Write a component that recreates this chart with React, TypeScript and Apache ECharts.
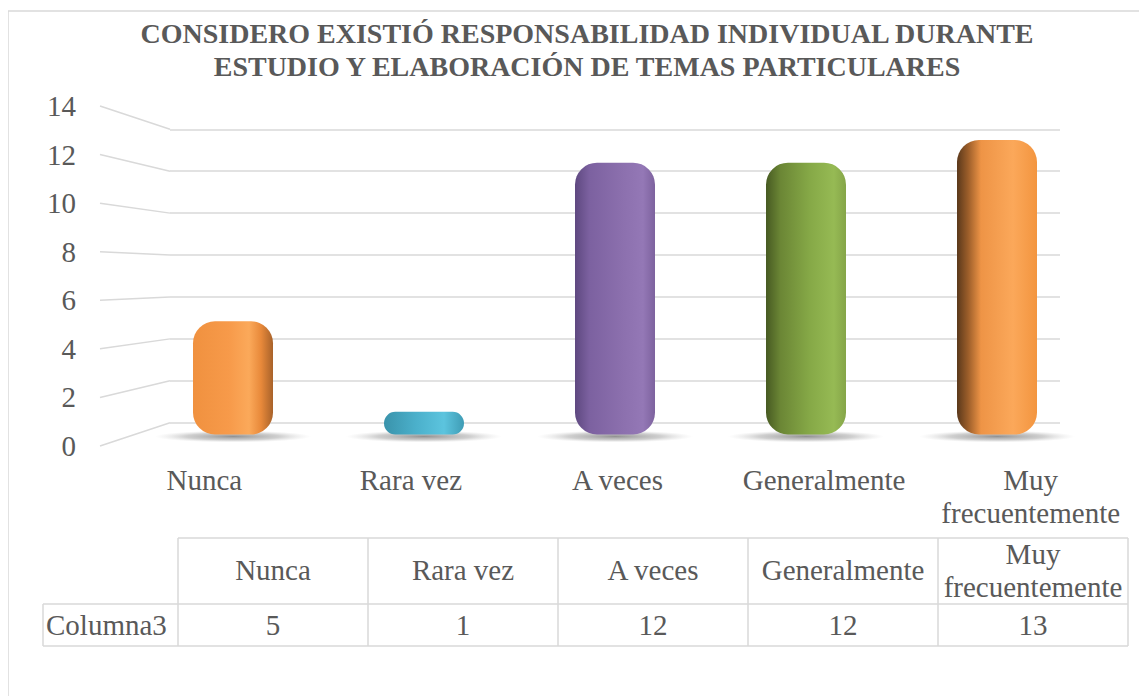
import React, { useEffect, useRef } from "react";
import * as echarts from "echarts";

// ---- data ----
const chartTitle = "CONSIDERO EXISTIÓ RESPONSABILIDAD INDIVIDUAL DURANTE\nESTUDIO Y ELABORACIÓN DE TEMAS PARTICULARES";
const categories = ["Nunca", "Rara vez", "A veces", "Generalmente", "Muy frecuentemente"];
const categoryLabels = ["Nunca", "Rara vez", "A veces", "Generalmente", "Muy\nfrecuentemente"];
const values = [5, 1, 12, 12, 13];
const seriesName = "Columna3";
const yTicks = [0, 2, 4, 6, 8, 10, 12, 14];

// ---- styles ----
const FONT = "Liberation Serif";
const FS = 29;
const TEXT = "#595959";
const GRID = "#d9d9d9";
const barGradients: [number, string][][] = [
  [[0, "#F0913F"], [0.45, "#F79A4A"], [0.7, "#FBA95A"], [0.85, "#E8893A"], [1, "#A8622A"]],
  [[0, "#3A93AB"], [0.4, "#4BB0CB"], [0.75, "#5CC4DE"], [1, "#3F9CB5"]],
  [[0, "#5E4880"], [0.18, "#7C61A0"], [0.6, "#8C70AE"], [0.85, "#9478B6"], [1, "#7D629E"]],
  [[0, "#475A22"], [0.18, "#6B8635"], [0.55, "#86A947"], [0.85, "#96BA54"], [1, "#85A548"]],
  [[0, "#5A381B"], [0.14, "#9C5E2A"], [0.3, "#EE9446"], [0.7, "#FBA85A"], [1, "#F3953F"]],
];

const gradient = (stops: [number, string][]) =>
  new echarts.graphic.LinearGradient(0, 0, 1, 0, stops.map(([offset, color]) => ({ offset, color })));

export default function App() {
  const ref = useRef<HTMLDivElement>(null);

  useEffect(() => {
    if (!ref.current) return;
    const chart = echarts.init(ref.current, null, { renderer: "svg" });

    const option: any = {
      animation: false,
      title: {
        text: chartTitle,
        left: 582,
        top: 12,
        textAlign: "center",
        textStyle: { fontFamily: FONT, fontSize: 28, fontWeight: "bold", color: TEXT, lineHeight: 33 },
      },
      grid: [
        { left: 170, top: 129.3, width: 890, height: 293.4 }, // back wall
        { left: 137.5, top: 117.4, width: 955, height: 317.1 }, // bars
        { left: 100, top: 106, width: 1, height: 340 }, // front value axis
        { left: 101, top: 439, width: 1033, height: 24.5 }, // category labels
      ],
      xAxis: [
        { gridIndex: 0, type: "category", data: categories, show: false },
        { gridIndex: 1, type: "category", data: categories, show: false },
        { gridIndex: 2, type: "value", show: false },
        {
          gridIndex: 3,
          type: "category",
          data: categoryLabels,
          axisLine: { show: false },
          axisTick: { show: false },
          axisLabel: {
            margin: 0,
            interval: 0,
            fontFamily: FONT,
            fontSize: FS,
            color: TEXT,
            lineHeight: 33,
            verticalAlign: "top",
          },
        },
      ],
      yAxis: [
        {
          gridIndex: 0, type: "value", min: 0, max: 14, interval: 2,
          axisLabel: { show: false }, axisLine: { show: false }, axisTick: { show: false },
          splitLine: { show: true, lineStyle: { color: GRID, width: 1.5 } },
        },
        { gridIndex: 1, type: "value", min: 0, max: 14, interval: 2, show: false, splitLine: { show: false } },
        {
          gridIndex: 2, type: "value", min: 0, max: 14, interval: 2,
          axisLine: { show: false }, axisTick: { show: false }, splitLine: { show: false },
          axisLabel: { margin: 24, fontFamily: FONT, fontSize: FS, color: TEXT },
        },
        { gridIndex: 3, type: "value", show: false },
      ],
      series: [
        {
          name: seriesName,
          type: "bar",
          xAxisIndex: 1,
          yAxisIndex: 1,
          barWidth: 80,
          z: 3,
          data: values.map((v, i) => ({
            value: v,
            itemStyle: { color: gradient(barGradients[i]), borderRadius: 22 },
          })),
        },
      ],
    };
    chart.setOption(option);

    const graphics: any[] = [];
    // outer chart border
    graphics.push({
      type: "rect", z: 0, silent: true,
      shape: { x: 8, y: 11, width: 1300, height: 900 },
      style: { fill: "none", stroke: GRID, lineWidth: 1.5 },
    });
    // perspective side lines (front axis -> back wall)
    yTicks.forEach((t) => {
      const yf = chart.convertToPixel({ yAxisIndex: 2 }, t) as number;
      const yb = chart.convertToPixel({ yAxisIndex: 0 }, t) as number;
      graphics.push({
        type: "line", z: 1, silent: true,
        shape: { x1: 100, y1: yf, x2: 170, y2: yb },
        style: { stroke: GRID, lineWidth: 1.5 },
      });
    });
    // floor shadows beneath bars
    categories.forEach((c) => {
      const p = chart.convertToPixel({ xAxisIndex: 1, yAxisIndex: 1 }, [c, 0]) as number[];
      graphics.push({
        type: "ellipse", z: 2, silent: true,
        shape: { cx: p[0], cy: p[1] + 2, rx: 78, ry: 6 },
        style: {
          fill: new echarts.graphic.RadialGradient(0.5, 0.5, 0.5, [
            { offset: 0, color: "rgba(110,110,110,0.75)" },
            { offset: 0.6, color: "rgba(150,150,150,0.45)" },
            { offset: 1, color: "rgba(200,200,200,0)" },
          ]),
        },
      });
    });

    // data table
    const tLeft = 43, tCol0 = 178, colW = 190, tTop = 538, tMid = 604, tBot = 646;
    const tRight = tCol0 + colW * categories.length;
    const line = (x1: number, y1: number, x2: number, y2: number) =>
      graphics.push({ type: "line", z: 1, silent: true, shape: { x1, y1, x2, y2 }, style: { stroke: GRID, lineWidth: 1.5 } });
    line(tCol0, tTop, tRight, tTop);
    line(tLeft, tMid, tRight, tMid);
    line(tLeft, tBot, tRight, tBot);
    line(tLeft, tMid, tLeft, tBot);
    for (let i = 0; i <= categories.length; i++) line(tCol0 + colW * i, tTop, tCol0 + colW * i, tBot);
    const txt = (text: string, x: number, y: number, align = "center") =>
      graphics.push({
        type: "text", z: 5, silent: true, x, y,
        style: { text, fontFamily: FONT, fontSize: FS, fill: TEXT, lineHeight: 33, align, verticalAlign: "middle" },
      });
    categoryLabels.forEach((c, i) => txt(c, tCol0 + colW * (i + 0.5), (tTop + tMid) / 2 - 1));
    values.forEach((v, i) => txt(String(v), tCol0 + colW * (i + 0.5), (tMid + tBot) / 2));
    txt(seriesName, tLeft + 3, (tMid + tBot) / 2, "left");

    chart.setOption({ graphic: graphics });

    return () => chart.dispose();
  }, []);

  return (
    <div
      ref={ref}
      style={{ width: 1147, height: 696, margin: "-8px 0 0 -8px", background: "#fff" }}
    />
  );
}
